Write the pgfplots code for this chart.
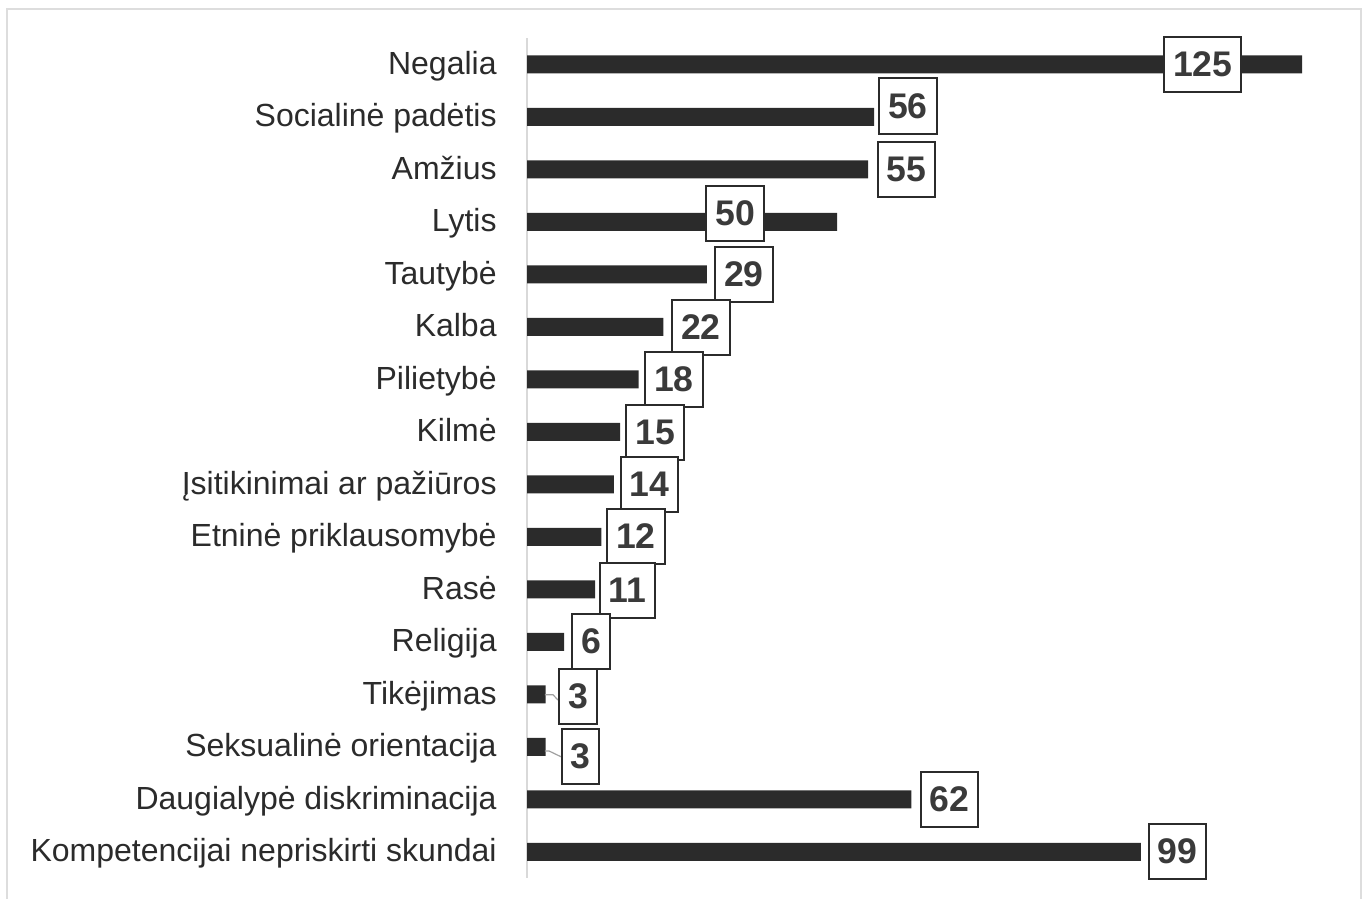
\documentclass[border=0pt]{standalone}
\usepackage{pgfplots}
\usepackage{pgfplotstable}
\pgfplotsset{compat=1.18}
\usepackage{fontspec}
\setmainfont{Liberation Sans}
\definecolor{barcol}{HTML}{2B2B2B}
\definecolor{labcol}{HTML}{2B2B2B}
\definecolor{numcol}{HTML}{3A3A3A}
\definecolor{boxcol}{HTML}{2B2B2B}
\definecolor{axisgray}{HTML}{D9D9D9}
\definecolor{bordergray}{HTML}{DDDDDD}
\definecolor{leadgray}{HTML}{A0A0A0}
\pgfplotstableread{
i v lx ly
0 125 109.0 0.0
1 56 61.45 0.795
2 55 61.2 2.005
3 50 33.55 2.843
4 29 35.0 4.005
5 22 28.06 5.005
6 18 23.7 5.995
7 15 20.65 7.005
8 14 19.76 7.995
9 12 17.58 8.995
10 11 16.21 10.014
11 6 10.32 10.986
12 3 8.23 12.043
13 3 8.63 13.176
14 62 68.15 14.005
15 99 104.9 14.986
}\data
\begin{document}
\begin{tikzpicture}
\useasboundingbox (0,0) rectangle (683.5bp,-449.5bp);
\draw[color=bordergray, line width=1bp] (3.5bp,-470bp) -- (3.5bp,-4.5bp) -- (680.5bp,-4.5bp) -- (680.5bp,-470bp);
\begin{axis}[
 at={(263.5bp,-19bp)}, anchor=north west,
 scale only axis, width=403bp, height=420bp,
 xmin=0, xmax=130, ymin=-0.5, ymax=15.5, y dir=reverse,
 axis x line=none, axis y line*=left,
 y axis line style={color=axisgray, line width=0.8bp},
 ytick={0,...,15},
 yticklabels={Negalia,Socialinė padėtis,Amžius,Lytis,Tautybė,Kalba,Pilietybė,Kilmė,Įsitikinimai ar pažiūros,Etninė priklausomybė,Rasė,Religija,Tikėjimas,Seksualinė orientacija,Daugialypė diskriminacija,Kompetencijai nepriskirti skundai},
 major tick length=0pt,
 yticklabel style={font=\fontsize{16bp}{18bp}\selectfont, text=labcol, inner sep=0pt, anchor=base east, xshift=-15bp, yshift=-5bp},
 clip=false,
]
\addplot[xbar, bar width=9bp, bar shift=0pt, fill=barcol, draw=none] table[x=v,y=i]{\data};
\addplot[color=leadgray, line width=0.6bp] coordinates {(2.9,12.01) (4.2,12.01) (5.0,12.11)};
\addplot[color=leadgray, line width=0.6bp] coordinates {(2.9,13.08) (3.55,13.08) (5.48,13.19)};
\addplot[draw=none, mark=none, nodes near coords, point meta=explicit symbolic,
  nodes near coords style={anchor=center, draw=boxcol, fill=white, line width=1bp,
   font=\fontsize{17.8bp}{20bp}\selectfont\bfseries, text=numcol,
   minimum height=27.5bp, inner xsep=4.4bp, inner ysep=0pt}]
  table[x=lx,y=ly,meta=v]{\data};
\end{axis}
\end{tikzpicture}
\end{document}
